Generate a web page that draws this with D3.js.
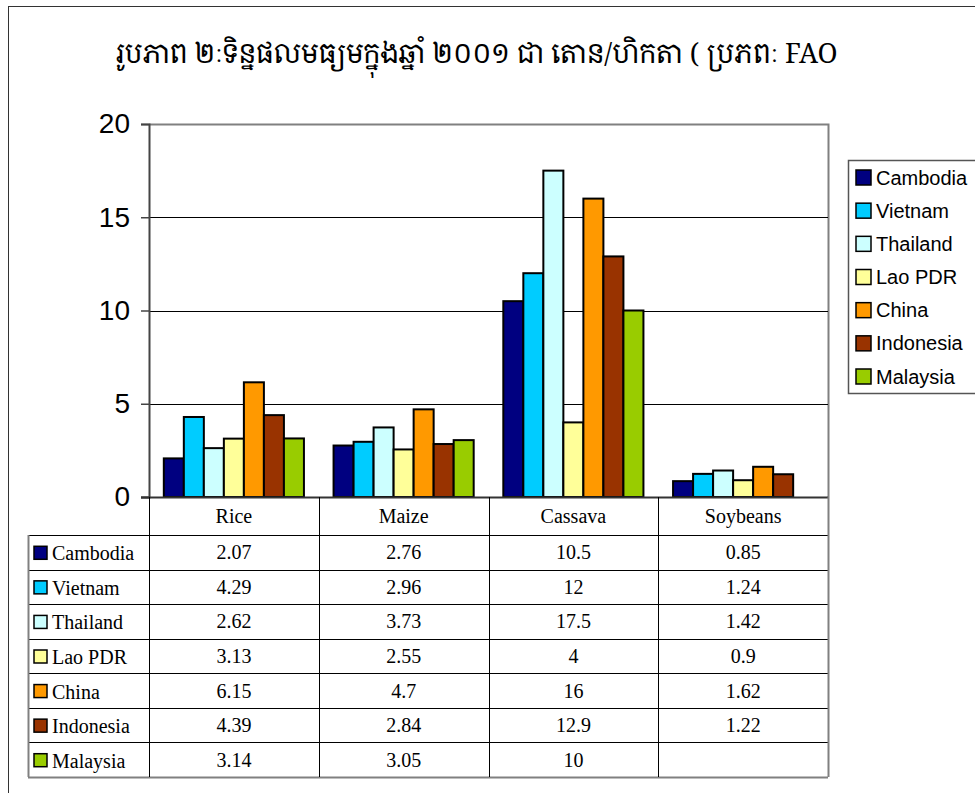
<!DOCTYPE html>
<html>
<head>
<meta charset="utf-8">
<script src="https://cdn.jsdelivr.net/npm/d3@7"></script>
<style>
  body { margin: 0; background: #fff; }
</style>
</head>
<body>
<div id="chart"></div>
<script>
const kTitle = "រូបភាព ២ៈទិន្នផលមធ្យមក្នុងឆ្នាំ ២០០១ ជា តោន/ហិកតា ( ប្រភពៈ FAO";
const kCrops = ["Rice", "Maize", "Cassava", "Soybeans"];
const kCountries = ["Cambodia", "Vietnam", "Thailand", "Lao PDR", "China", "Indonesia", "Malaysia"];
const kColors = ["#000080", "#00CCFF", "#CCFFFF", "#FFFF99", "#FF9900", "#993300", "#99CC00"];
// one array per country, values for Rice, Maize, Cassava, Soybeans
const kCambodia = [2.07, 2.76, 10.5, 0.85];
const kVietnam = [4.29, 2.96, 12, 1.24];
const kThailand = [2.62, 3.73, 17.5, 1.42];
const kLao = [3.13, 2.55, 4, 0.9];
const kChina = [6.15, 4.7, 16, 1.62];
const kIndonesia = [4.39, 2.84, 12.9, 1.22];
const kMalaysia = [3.14, 3.05, 10, null];
const kYTicks = [0, 5, 10, 15, 20];

const kWidth = 975;
const kHeight = 793;
const kPlotLeft = 149;
const kPlotRight = 828;
const kPlotTop = 124;
const kPlotBottom = 497;
const kHeaderBottom = 535;
const kTableBottom = 777;
const kTableLeft = 28;

const series = [kCambodia, kVietnam, kThailand, kLao, kChina, kIndonesia, kMalaysia];

const svg = d3.select("#chart")
  .append("svg")
  .attr("width", kWidth)
  .attr("height", kHeight)
  .style("display", "block");

// outer chart border (runs off the right/bottom edge)
svg.append("rect")
  .attr("x", 8.5).attr("y", 6.5)
  .attr("width", 1000).attr("height", 820)
  .attr("fill", "none").attr("stroke", "#333").attr("stroke-width", 1);

svg.append("text")
  .attr("x", 476).attr("y", 63)
  .attr("text-anchor", "middle")
  .style("font-family", "'Khmer OS', 'Noto Serif Khmer', 'Noto Sans Khmer', 'Liberation Serif', serif")
  .style("font-size", "27px")
  .text(kTitle);

const x0 = d3.scaleBand().domain(kCrops).range([kPlotLeft, kPlotRight]);
const x1 = d3.scaleBand().domain(kCountries).range([0, x0.bandwidth()]).paddingOuter(0.74);
const y = d3.scaleLinear().domain([0, 20]).range([kPlotBottom, kPlotTop]);

// plot area frame
svg.append("path")
  .attr("d", `M${kPlotLeft},${kPlotTop + 0.5}H${kPlotRight + 0.5}V${kPlotBottom}`)
  .attr("fill", "none").attr("stroke", "#808080").attr("stroke-width", 2);

// gridlines
svg.append("g")
  .selectAll("line")
  .data(kYTicks.filter(d => d > 0 && d < 20))
  .join("line")
  .attr("x1", kPlotLeft).attr("x2", kPlotRight)
  .attr("y1", d => Math.round(y(d)) + 0.5).attr("y2", d => Math.round(y(d)) + 0.5)
  .attr("stroke", "#000").attr("stroke-width", 1);

// bars
const barData = [];
kCountries.forEach((c, i) => {
  kCrops.forEach((crop, j) => {
    if (series[i][j] != null) barData.push({ country: c, crop: crop, value: series[i][j], color: kColors[i] });
  });
});

svg.append("g")
  .selectAll("rect")
  .data(barData)
  .join("rect")
  .attr("x", d => x0(d.crop) + x1(d.country))
  .attr("y", d => y(d.value))
  .attr("width", x1.bandwidth())
  .attr("height", d => y(0) - y(d.value))
  .attr("fill", d => d.color)
  .attr("stroke", "#000")
  .attr("stroke-width", 2);

// y axis
const yAxis = d3.axisLeft(y).tickValues(kYTicks).tickSize(8).tickPadding(11);
const yG = svg.append("g")
  .attr("transform", `translate(${kPlotLeft},0)`)
  .call(yAxis);
yG.select(".domain").attr("stroke", "#444").attr("stroke-width", 2);
yG.selectAll(".tick line").attr("stroke", "#444").attr("stroke-width", 1.5);
yG.selectAll(".tick text")
  .style("font-family", "Arial, 'Liberation Sans', sans-serif")
  .style("font-size", "28px")
  .attr("fill", "#000");

// x baseline
svg.append("line")
  .attr("x1", kPlotLeft - 8).attr("x2", kPlotRight)
  .attr("y1", kPlotBottom + 0.5).attr("y2", kPlotBottom + 0.5)
  .attr("stroke", "#333").attr("stroke-width", 2);

// data table
const rowY = d3.scaleBand().domain(kCountries).range([kHeaderBottom, kTableBottom]);
const table = svg.append("g");
const tableFont = "'Times New Roman', 'Liberation Serif', serif";

// header cells
table.selectAll("text.hdr")
  .data(kCrops)
  .join("text")
  .attr("class", "hdr")
  .attr("x", d => x0(d) + x0.bandwidth() / 2)
  .attr("y", (kPlotBottom + kHeaderBottom) / 2 + 7)
  .attr("text-anchor", "middle")
  .style("font-family", tableFont).style("font-size", "20px")
  .text(d => d);

// horizontal rules
table.selectAll("line.row")
  .data(kCountries)
  .join("line")
  .attr("class", "row")
  .attr("x1", kTableLeft).attr("x2", kPlotRight)
  .attr("y1", d => Math.round(rowY(d)) + 0.5).attr("y2", d => Math.round(rowY(d)) + 0.5)
  .attr("stroke", "#000").attr("stroke-width", 1);
table.append("line")
  .attr("x1", kTableLeft).attr("x2", kPlotRight)
  .attr("y1", kTableBottom + 0.5).attr("y2", kTableBottom + 0.5)
  .attr("stroke", "#808080").attr("stroke-width", 2);

// vertical rules
table.selectAll("line.col")
  .data(kCrops)
  .join("line")
  .attr("class", "col")
  .attr("x1", d => Math.round(x0(d)) + 0.5).attr("x2", d => Math.round(x0(d)) + 0.5)
  .attr("y1", kPlotBottom).attr("y2", kTableBottom)
  .attr("stroke", "#000").attr("stroke-width", 1);
table.append("line")
  .attr("x1", kPlotRight + 0.5).attr("x2", kPlotRight + 0.5)
  .attr("y1", kPlotBottom).attr("y2", kTableBottom)
  .attr("stroke", "#808080").attr("stroke-width", 2);
table.append("line")
  .attr("x1", kTableLeft + 0.5).attr("x2", kTableLeft + 0.5)
  .attr("y1", kHeaderBottom).attr("y2", kTableBottom)
  .attr("stroke", "#808080").attr("stroke-width", 2);

// row labels with keys
const rows = table.selectAll("g.rowlab")
  .data(kCountries)
  .join("g")
  .attr("class", "rowlab")
  .attr("transform", d => `translate(0,${rowY(d) + rowY.bandwidth() / 2})`);
rows.append("rect")
  .attr("x", 34).attr("y", -6)
  .attr("width", 13).attr("height", 13)
  .attr("fill", (d, i) => kColors[i])
  .attr("stroke", "#000").attr("stroke-width", 1.5);
rows.append("text")
  .attr("x", 52).attr("y", 8)
  .style("font-family", tableFont).style("font-size", "20px")
  .text(d => d);

// value cells
table.selectAll("text.val")
  .data(barData)
  .join("text")
  .attr("class", "val")
  .attr("x", d => x0(d.crop) + x0.bandwidth() / 2)
  .attr("y", d => rowY(d.country) + rowY.bandwidth() / 2 + 7)
  .attr("text-anchor", "middle")
  .style("font-family", tableFont).style("font-size", "20px")
  .text(d => d.value);

// legend
const legend = svg.append("g");
legend.append("rect")
  .attr("x", 848.5).attr("y", 160.5)
  .attr("width", 140).attr("height", 233)
  .attr("fill", "#fff").attr("stroke", "#555").attr("stroke-width", 1.5);
const legY = d3.scalePoint().domain(kCountries).range([177, 376]);
const items = legend.selectAll("g.item")
  .data(kCountries)
  .join("g")
  .attr("class", "item")
  .attr("transform", d => `translate(0,${legY(d)})`);
items.append("rect")
  .attr("x", 856).attr("y", -7)
  .attr("width", 15).attr("height", 15)
  .attr("fill", (d, i) => kColors[i])
  .attr("stroke", "#000").attr("stroke-width", 1.5);
items.append("text")
  .attr("x", 876).attr("y", 7.5)
  .style("font-family", "Arial, 'Liberation Sans', sans-serif")
  .style("font-size", "20px")
  .text(d => d);
</script>
</body>
</html>
